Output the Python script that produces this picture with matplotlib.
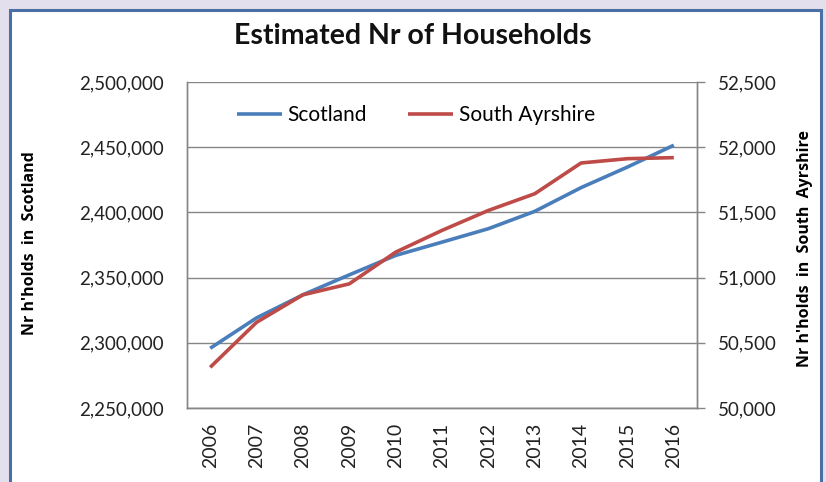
import matplotlib
matplotlib.use("Agg")
import matplotlib.pyplot as plt
from matplotlib.patches import Rectangle
from matplotlib.ticker import FuncFormatter, FixedLocator

years = ["2006", "2007", "2008", "2009", "2010", "2011", "2012", "2013", "2014", "2015", "2016"]
scotland = [2295800, 2319100, 2336800, 2352100, 2367000, 2377200, 2387500, 2400800, 2419000, 2434800, 2451500]
south_ayrshire = [50312, 50657, 50868, 50952, 51195, 51362, 51515, 51643, 51879, 51912, 51920]
left_ticks = [2250000, 2300000, 2350000, 2400000, 2450000, 2500000]
right_ticks = [50000, 50500, 51000, 51500, 52000, 52500]

plt.rcParams['font.family'] = ['Lato', 'DejaVu Sans']

W, H = 826, 482
PX = 100 / 72  # pixels per point
fig = plt.figure(figsize=(W / 100, H / 100), dpi=100)
fig.patch.set_facecolor("#E4DFEC")

# white chart area with blue border
fig.patches.append(Rectangle((9.5 / W, -0.05), (821 - 9.5) / W, 1.05 - 10 / H,
                             transform=fig.transFigure, facecolor="white",
                             edgecolor="#4A6FA5", linewidth=2.2, zorder=-10))

ax = fig.add_axes([187 / W, 1 - 408 / H, (697 - 187) / W, (408 - 82) / H])
ax.set_facecolor("white")
ax2 = ax.twinx()

x = list(range(len(years)))
l1, = ax.plot(x, scotland, color="#4A7EBB", lw=2.6, solid_capstyle="butt", label="Scotland")
l2, = ax2.plot(x, south_ayrshire, color="#BE4B48", lw=2.6, solid_capstyle="butt", label="South Ayrshire")

ax.set_xlim(-0.5, len(years) - 0.5)
ax.set_ylim(left_ticks[0], left_ticks[-1])
ax2.set_ylim(right_ticks[0], right_ticks[-1])
ax.yaxis.set_major_locator(FixedLocator(left_ticks))
ax2.yaxis.set_major_locator(FixedLocator(right_ticks))
fmt = FuncFormatter(lambda v, p: f"{int(v):,}")
ax.yaxis.set_major_formatter(fmt)
ax2.yaxis.set_major_formatter(fmt)

ax.set_xticks(x)
ax.set_xticklabels(years, rotation=90, fontsize=14, color="#222222")
ax.tick_params(axis="x", length=0, pad=10.5)
ax.tick_params(axis="y", length=0, pad=(187 - 164) / PX, labelsize=13.5, labelcolor="#222222")
ax2.tick_params(axis="y", length=8 / PX, width=1, color="#868686", pad=(718 - 705) / PX,
                labelsize=13.5, labelcolor="#222222")

ax.grid(axis="y", color="#868686", lw=1)
ax.set_axisbelow(True)
for a in (ax, ax2):
    for s in a.spines.values():
        s.set_color("#868686")
        s.set_linewidth(1)
    a.spines["top"].set_visible(False)

lab_font = ['Open Sans', 'DejaVu Sans']
ax.set_ylabel("Nr h'holds  in  Scotland", fontsize=11.5, fontweight="bold", family=lab_font)
ax.yaxis.set_label_coords(-(187 - 38) / 510, 0.505)
ax2.set_ylabel("Nr h'holds  in  South  Ayrshire", fontsize=11.5, fontweight="bold",
               rotation=90, family=lab_font)
ax2.yaxis.set_label_coords(1 + (797 - 697) / 510, 0.49)

fig.text(413 / W, 1 - 36 / H, "Estimated Nr of Households", ha="center", va="center",
         fontsize=20.5, fontweight="bold", color="#111111")

leg = ax2.legend([l1, l2], ["Scotland", "South Ayrshire"], loc="center left",
                 bbox_to_anchor=(50 / 510, 1 - 33 / 326), ncol=2, frameon=False,
                 fontsize=15, handlelength=2.16, handletextpad=0.25, columnspacing=2.0,
                 borderaxespad=0, borderpad=0)

fig.savefig("out.png", dpi=100, facecolor=fig.get_facecolor())
